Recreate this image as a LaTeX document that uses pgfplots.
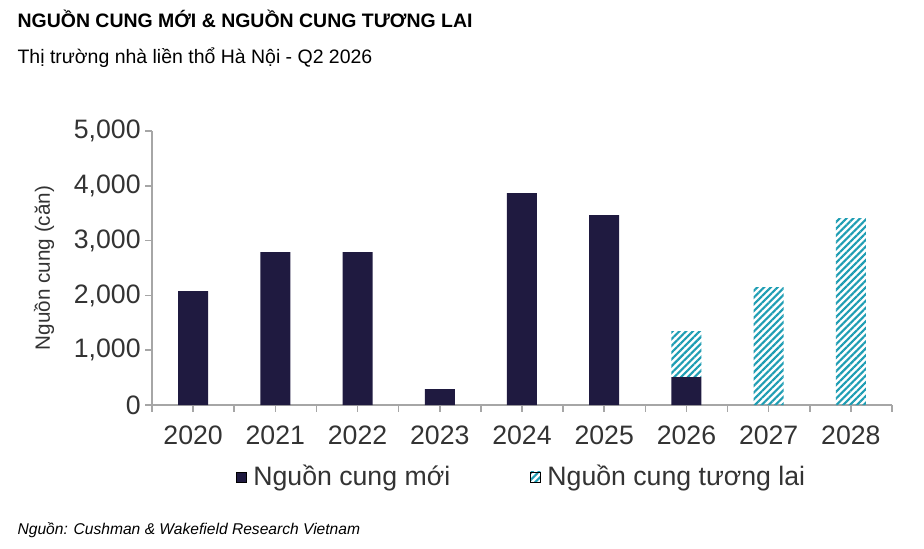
\documentclass[border=0pt]{standalone}
\usepackage{pgfplots}
\pgfplotsset{compat=1.18}
\usepackage{fontspec}
\setmainfont{Liberation Sans}
\usetikzlibrary{patterns.meta}
\definecolor{navy}{HTML}{1F1A40}
\definecolor{teal2}{HTML}{1E9DB3}
\definecolor{axgray}{HTML}{A6A6A6}
\definecolor{txt}{HTML}{333333}
\begin{document}
\begin{tikzpicture}
\path (0pt,0pt) rectangle (693pt,-411.75pt);
\node[anchor=base west,inner sep=0pt,font=\bfseries\fontsize{14.6}{16}\selectfont] at (13pt,-21pt) {NGUỒN CUNG MỚI \& NGUỒN CUNG TƯƠNG LAI};
\node[anchor=base west,inner sep=0pt,font=\fontsize{14.6}{16}\selectfont] at (13pt,-47.5pt) {Thị trường nhà liền thổ Hà Nội - Q2 2026};
\node[anchor=base west,inner sep=0pt,font=\itshape\fontsize{11.7}{13}\selectfont] at (13pt,-401pt) {Nguồn: Cushman \& Wakefield Research Vietnam};
\begin{axis}[
  at={(114pt,-303.75pt)}, anchor=south west,
  scale only axis, width=555pt, height=205.5pt,
  xmin=-0.5, xmax=8.5, ymin=0, ymax=5000,
  ybar stacked, bar width=22.5pt,
  axis x line*=bottom, axis y line*=left,
  axis line style={axgray, line width=1.2pt},
  xtick={0,...,8}, xticklabels={2020,2021,2022,2023,2024,2025,2026,2027,2028},
  minor xtick={-0.5,0.5,...,8.5},
  ytick={0,1000,...,5000},
  tick style={axgray, line width=1.2pt},
  xtick align=outside, ytick align=outside,
  major tick length=5pt, minor tick length=5pt,
  tick label style={font=\fontsize{20}{22}\selectfont, text=txt},
  scaled y ticks=false,
  yticklabel={\pgfmathprintnumber[assume math mode=true,1000 sep={,}]{\tick}},
  xticklabel style={yshift=-7pt},
  ylabel={Nguồn cung (căn)}, ylabel style={font=\fontsize{15.5}{17}\selectfont, text=txt, yshift=8pt},
  legend style={draw=none, at={(0.5,-0.2)}, anchor=north, legend columns=2,
    font=\fontsize{20}{22}\selectfont, text=txt, /tikz/every even column/.append style={column sep=58pt}},
  legend image code/.code={\draw[#1] (0pt,-4pt) rectangle (7.5pt,3.5pt);},
]
\addplot[fill=navy, draw=none] coordinates {(0,2080)(1,2790)(2,2790)(3,290)(4,3865)(5,3465)(6,510)(7,0)(8,0)};
\addlegendentry{\hspace{3pt}Nguồn cung mới}
\addplot[pattern={Lines[angle=45,distance=3.6pt,line width=1.6pt]}, pattern color=teal2, draw=none] coordinates {(0,0)(1,0)(2,0)(3,0)(4,0)(5,0)(6,840)(7,2150)(8,3410)};
\addlegendentry{\hspace{3pt}Nguồn cung tương lai}
\end{axis}
\end{tikzpicture}
\end{document}
